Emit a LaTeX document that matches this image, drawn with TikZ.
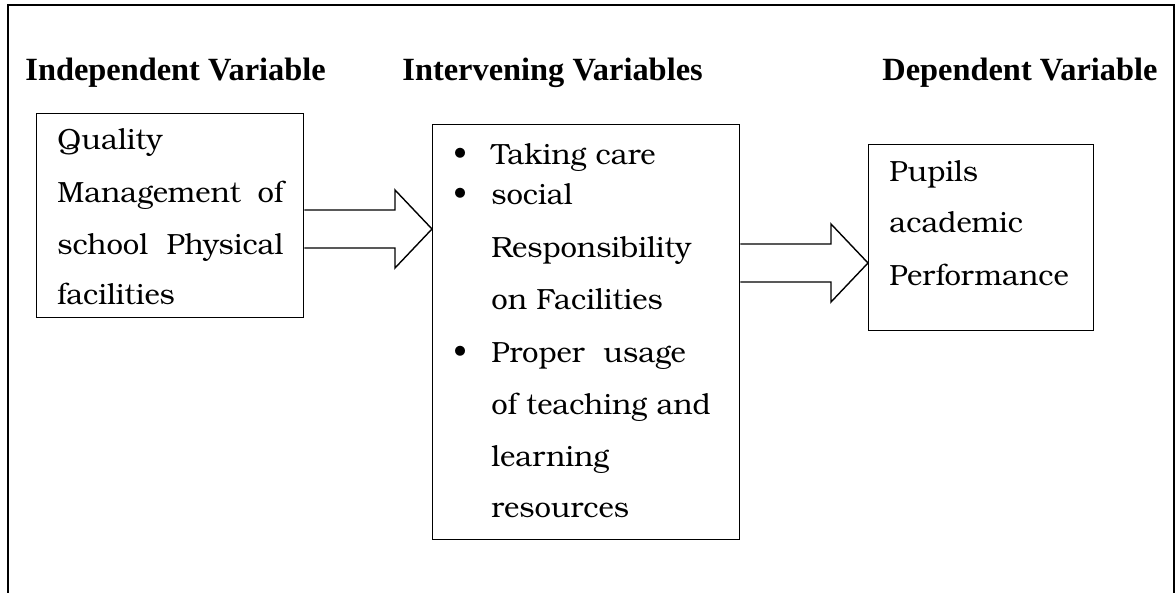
\documentclass[tikz,border=0pt]{standalone}
\usepackage{fontspec}
\setmainfont{texgyrebonum}[Extension=.otf, UprightFont=*-regular, BoldFont=*-bold]
\newfontfamily\headfont{Liberation Serif}
\usetikzlibrary{calc}

% fat hollow arrow from the east side of #1 to the west side of #2, centred on y=#3
\newcommand\hollowarrow[3]{%
	\draw[line width=0.7pt]
		(#1.east |- 0,#3-19) -- ($(#2.west |- 0,#3-19)+(-37,0)$) -- ++(0,-20)
		-- (#2.west |- 0,#3)
		-- ($(#2.west |- 0,#3+39)+(-37,0)$) -- ++(0,-20) -- (#1.east |- 0,#3+19);
}

\begin{document}
\begin{tikzpicture}[x=0.5pt,y=-0.5pt,
		heading/.style={font=\headfont\bfseries\fontsize{16.2}{19}\selectfont,anchor=base west,inner sep=0},
		entry/.style={font=\fontsize{14.6}{17}\selectfont,anchor=base west,inner sep=0},
		box/.style={draw,line width=0.7pt,anchor=north west,inner sep=0}]
	\useasboundingbox (0,0) rectangle (1175,593);
	\draw[line width=1pt] (8,593) -- (8,5) -- (1174,5) -- (1174,593);

	\node[heading] (indep) at (25,81) {Independent Variable};
	\node[heading] (interv) at (402,81) {Intervening Variables};
	\node[heading] (dep) at (882,81) {Dependent Variable};

	\node[box,minimum width=133.5pt,minimum height=102pt] (iv) at (36,113) {};
	\node[box,minimum width=153.5pt,minimum height=207.5pt] (mv) at (432,124) {};
	\node[box,minimum width=112.5pt,minimum height=93pt] (dv) at (868,144) {};

	\foreach \yy/\txt [count=\i] in {150/Quality,203/Management\hfill of,255/school\hfill Physical,305/facilities}
		\node[entry,text width=113pt,align=left] (iv\i) at (57,\yy) {\txt};
	\foreach \yy/\txt [count=\i] in {165/Taking care,205/social,258/Responsibility,310/on Facilities,363/Proper\ \ usage,415/of teaching and,467/learning,518/resources}
		\node[entry] (mv\i) at (491,\yy) {\txt};
	\foreach \i in {1,2,5}
		\node[entry] (dot\i) at (mv\i.base -| 453,0) {\textbullet};
	\foreach \yy/\txt [count=\i] in {182/Pupils,233/academic,286/Performance}
		\node[entry] (dv\i) at (889,\yy) {\txt};

	\hollowarrow{iv}{mv}{229}
	\hollowarrow{mv}{dv}{263}
\end{tikzpicture}
\end{document}
